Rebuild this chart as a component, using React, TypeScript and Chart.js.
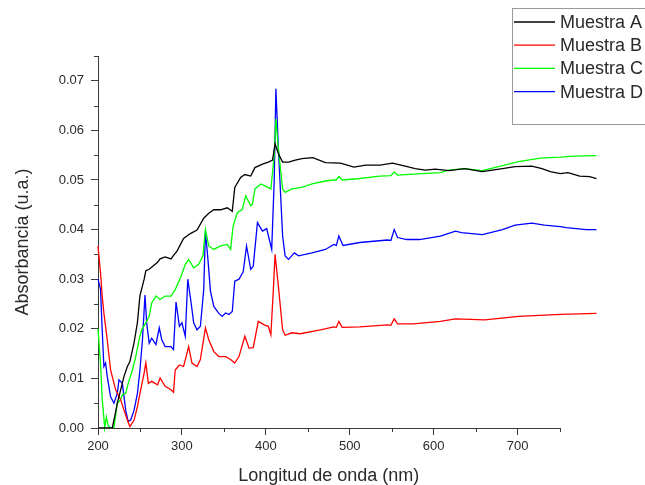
import React, { useEffect, useRef } from "react";
import { Chart, registerables } from "chart.js";

Chart.register(...registerables);

const FONT = '"Liberation Sans", Arial, Helvetica, sans-serif';

const seriesNames = ["Muestra A", "Muestra B", "Muestra C", "Muestra D"];
const seriesColors = ["#000000", "#ff0000", "#00ff00", "#0000ff"];

const xTitle = "Longitud de onda (nm)";
const yTitle = "Absorbancia (u.a.)";
const xAxisMin = 200;
const xAxisEnd = 750;
const xDataMax = 800;
const xMajorLast = 700;
const xMinorTicks = [250, 350, 450, 550, 650, 750];
const yMinorTicks = [0.005, 0.015, 0.025, 0.035, 0.045, 0.055, 0.065, 0.075];

const wlA = [200, 209, 215, 217, 220, 223, 227, 231, 235, 238, 243, 247, 250, 255, 257, 261, 266, 271, 274, 280, 287, 290, 294, 302, 310, 318, 326, 332, 338, 346, 354, 360, 363, 370, 375, 382, 387, 396, 403, 408, 411, 415, 420, 427, 435, 443, 456, 471, 489, 505, 519, 536, 551, 566, 578, 590, 602, 618, 637, 658, 682, 697, 717, 729, 739, 751, 760, 774, 786, 794];
const absA = [0.0, 0.0, 0.0, 0.0, 0.0024, 0.005, 0.0077, 0.0104, 0.0124, 0.0134, 0.0172, 0.0213, 0.0267, 0.03, 0.0317, 0.032, 0.0327, 0.0334, 0.0341, 0.0345, 0.0341, 0.0348, 0.0356, 0.0382, 0.0392, 0.0399, 0.0423, 0.0433, 0.044, 0.044, 0.0444, 0.0437, 0.0485, 0.0505, 0.0511, 0.0508, 0.0525, 0.0532, 0.0536, 0.054, 0.0573, 0.0553, 0.0536, 0.0536, 0.054, 0.0543, 0.0545, 0.0535, 0.0534, 0.0526, 0.053, 0.053, 0.0534, 0.0528, 0.0523, 0.052, 0.0522, 0.0519, 0.0523, 0.0517, 0.0523, 0.0527, 0.0528, 0.0523, 0.0517, 0.0513, 0.0515, 0.0508, 0.0507, 0.0503];

const wlB = [200, 203, 205, 207, 211, 215, 221, 227, 231, 235, 238, 243, 247, 250, 255, 257, 260, 264, 271, 274, 280, 287, 290, 292, 297, 302, 308, 312, 318, 322, 328, 332, 338, 344, 352, 358, 363, 368, 375, 380, 385, 391, 398, 403, 406, 409, 411, 415, 420, 423, 431, 441, 465, 481, 484, 487, 491, 512, 545, 549, 553, 557, 576, 608, 626, 661, 701, 751, 794];
const absB = [0.0367, 0.0313, 0.0266, 0.0232, 0.0178, 0.0117, 0.0077, 0.0057, 0.0036, 0.0016, 0.0003, 0.0016, 0.0043, 0.007, 0.0111, 0.0131, 0.009, 0.0094, 0.0087, 0.0101, 0.0084, 0.0077, 0.0072, 0.0117, 0.0127, 0.0124, 0.0164, 0.0131, 0.0124, 0.0138, 0.0202, 0.0178, 0.0154, 0.0144, 0.0144, 0.0138, 0.0131, 0.0144, 0.0185, 0.0161, 0.0162, 0.0215, 0.0208, 0.0205, 0.0188, 0.028, 0.035, 0.0285, 0.0198, 0.0187, 0.0192, 0.019, 0.0198, 0.0204, 0.0203, 0.0215, 0.0203, 0.0204, 0.0208, 0.0207, 0.022, 0.021, 0.021, 0.0215, 0.022, 0.0218, 0.0225, 0.0229, 0.0231];

const wlC = [200, 203, 205, 208, 210, 212, 215, 219, 223, 227, 229, 233, 236, 241, 245, 249, 252, 257, 261, 264, 269, 274, 280, 287, 292, 299, 304, 308, 314, 320, 325, 328, 332, 338, 346, 354, 358, 361, 366, 372, 376, 382, 384, 387, 394, 399, 406, 410, 412, 415, 420, 423, 431, 443, 455, 471, 481, 484, 487, 491, 512, 536, 549, 553, 557, 576, 608, 618, 637, 658, 682, 701, 727, 751, 767, 794];
const absC = [0.02, 0.013, 0.006, 0.0, 0.0022, 0.0005, 0.0, 0.0, 0.005, 0.0057, 0.0067, 0.007, 0.009, 0.0117, 0.0144, 0.0178, 0.0198, 0.0212, 0.0225, 0.0252, 0.0266, 0.0259, 0.0266, 0.0266, 0.0279, 0.0306, 0.033, 0.034, 0.0323, 0.033, 0.0347, 0.04, 0.0367, 0.036, 0.0367, 0.037, 0.036, 0.0407, 0.0434, 0.0441, 0.0468, 0.0448, 0.0451, 0.0482, 0.0492, 0.0488, 0.0482, 0.055, 0.0623, 0.0562, 0.0482, 0.0475, 0.0482, 0.0485, 0.0492, 0.0498, 0.05, 0.05, 0.0507, 0.05, 0.0503, 0.0508, 0.0509, 0.0516, 0.051, 0.0512, 0.0515, 0.052, 0.0523, 0.0519, 0.0529, 0.0537, 0.0544, 0.0546, 0.0548, 0.0549];

const wlD = [200, 203, 205, 207, 209, 211, 215, 219, 223, 225, 229, 233, 236, 239, 243, 247, 250, 253, 256, 258, 261, 264, 269, 273, 276, 280, 287, 290, 293, 297, 300, 304, 307, 311, 314, 318, 322, 326, 328, 331, 334, 338, 344, 348, 352, 356, 360, 363, 368, 373, 377, 382, 385, 390, 396, 401, 407, 410, 412, 415, 420, 423, 427, 434, 439, 455, 471, 481, 484, 487, 492, 512, 545, 549, 553, 557, 568, 583, 608, 626, 633, 658, 682, 697, 717, 732, 751, 758, 782, 794];
const absD = [0.03, 0.028, 0.0198, 0.0124, 0.0131, 0.0104, 0.0063, 0.005, 0.007, 0.0097, 0.009, 0.0036, 0.0013, 0.0016, 0.0036, 0.007, 0.0117, 0.0178, 0.0268, 0.0212, 0.0171, 0.0181, 0.0168, 0.0202, 0.0178, 0.0164, 0.0164, 0.0158, 0.0254, 0.0205, 0.0212, 0.0185, 0.03, 0.0252, 0.0212, 0.0198, 0.0205, 0.0279, 0.0397, 0.034, 0.0276, 0.0245, 0.0231, 0.0225, 0.0232, 0.0229, 0.0235, 0.0296, 0.03, 0.0315, 0.0367, 0.032, 0.0326, 0.0414, 0.0397, 0.0402, 0.036, 0.05, 0.0684, 0.0562, 0.0387, 0.0347, 0.034, 0.0353, 0.0347, 0.0353, 0.036, 0.037, 0.0368, 0.0387, 0.0368, 0.0374, 0.0379, 0.0378, 0.04, 0.0384, 0.038, 0.038, 0.0387, 0.0397, 0.0394, 0.039, 0.04, 0.0409, 0.0413, 0.0409, 0.0406, 0.0404, 0.04, 0.04];

const seriesX = [wlA, wlB, wlC, wlD];
const seriesY = [absA, absB, absC, absD];

const AXIS_COLOR = "#3a3a3a";
const TEXT_COLOR = "#2a2a2a";

const axisDecorPlugin = {
  id: "axisDecor",
  afterDraw(chart: any) {
    const { ctx, chartArea } = chart;
    const xs = chart.scales.x;
    const ys = chart.scales.y;
    const x0 = xs.getPixelForValue(xAxisMin);
    const x1 = xs.getPixelForValue(xAxisEnd);
    ctx.save();
    ctx.strokeStyle = AXIS_COLOR;
    ctx.lineWidth = 1;
    ctx.beginPath();
    const by = Math.round(chartArea.bottom) + 0.5;
    ctx.moveTo(Math.round(x0), by);
    ctx.lineTo(Math.round(x1) + 1, by);
    for (const v of xMinorTicks) {
      const px = Math.round(xs.getPixelForValue(v)) + 0.5;
      ctx.moveTo(px, chartArea.bottom);
      ctx.lineTo(px, chartArea.bottom + 4);
    }
    for (const v of yMinorTicks) {
      const py = Math.round(ys.getPixelForValue(v)) + 0.5;
      ctx.moveTo(chartArea.left, py);
      ctx.lineTo(chartArea.left - 4, py);
    }
    ctx.stroke();
    ctx.fillStyle = TEXT_COLOR;
    ctx.font = `18px ${FONT}`;
    ctx.textAlign = "center";
    ctx.textBaseline = "middle";
    ctx.fillText(xTitle, (x0 + x1) / 2, 476);
    ctx.restore();
  },
};

const boxLegendPlugin = {
  id: "boxLegend",
  afterDraw(chart: any) {
    const { ctx } = chart;
    ctx.save();
    ctx.strokeStyle = "#9a9a9a";
    ctx.lineWidth = 1;
    ctx.strokeRect(512.5, 8.5, 200, 116);
    ctx.font = `18px ${FONT}`;
    ctx.textBaseline = "middle";
    ctx.textAlign = "left";
    chart.data.datasets.forEach((ds: any, i: number) => {
      const y = 22 + i * 23.2;
      ctx.strokeStyle = ds.borderColor;
      ctx.lineWidth = 1.3;
      ctx.beginPath();
      ctx.moveTo(514, y);
      ctx.lineTo(555, y);
      ctx.stroke();
      ctx.fillStyle = TEXT_COLOR;
      ctx.fillText(ds.label, 560, y + 1);
    });
    ctx.restore();
  },
};

export default function App() {
  const canvasRef = useRef<HTMLCanvasElement | null>(null);

  useEffect(() => {
    const canvas = canvasRef.current;
    if (!canvas) return;
    const datasets = seriesNames.map((name, i) => ({
      label: name,
      data: seriesX[i].map((x, j) => ({ x, y: seriesY[i][j] })),
      borderColor: seriesColors[i],
      backgroundColor: seriesColors[i],
      borderWidth: 1.3,
      pointRadius: 0,
      tension: 0,
      fill: false,
      clip: false as any,
    }));
    const chart = new Chart(canvas, {
      type: "line",
      data: { datasets },
      options: {
        animation: false,
        responsive: false,
        devicePixelRatio: 1,
        layout: { padding: { left: 0, right: 43.5, top: 56, bottom: 0 } },
        plugins: {
          legend: { display: false },
          tooltip: { enabled: false },
          title: { display: false },
        },
        scales: {
          x: {
            type: "linear",
            min: xAxisMin,
            max: xDataMax,
            afterFit(scale: any) {
              scale.height = 57;
            },
            afterBuildTicks(scale: any) {
              scale.ticks = scale.ticks.filter((t: any) => t.value <= xMajorLast);
            },
            ticks: {
              stepSize: 100,
              includeBounds: false,
              autoSkip: false,
              maxRotation: 0,
              padding: 4,
              color: TEXT_COLOR,
              font: { family: FONT, size: 13 },
              callback: (v: any) => String(v),
            },
            grid: {
              display: true,
              drawOnChartArea: false,
              drawTicks: true,
              tickLength: 7,
              tickColor: AXIS_COLOR,
              tickWidth: 1,
            },
            border: { display: false },
            title: { display: false },
          },
          y: {
            type: "linear",
            min: 0,
            max: 0.075,
            afterFit(scale: any) {
              scale.width = 98;
            },
            ticks: {
              stepSize: 0.01,
              includeBounds: false,
              autoSkip: false,
              padding: 7,
              color: TEXT_COLOR,
              font: { family: FONT, size: 13 },
              callback: (v: any) => Number(v).toFixed(2),
            },
            grid: {
              display: true,
              drawOnChartArea: false,
              drawTicks: true,
              tickLength: 7,
              tickColor: AXIS_COLOR,
              tickWidth: 1,
            },
            border: { display: true, color: AXIS_COLOR, width: 1 },
            title: {
              display: true,
              text: yTitle,
              color: TEXT_COLOR,
              font: { family: FONT, size: 18, lineHeight: 1 },
              padding: { top: 14, bottom: 0 },
            },
          },
        },
      },
      plugins: [axisDecorPlugin, boxLegendPlugin],
    });
    return () => chart.destroy();
  }, []);

  return (
    <div style={{ position: "fixed", left: 0, top: 0, width: 645, height: 485, background: "#ffffff" }}>
      <canvas ref={canvasRef} width={645} height={485} />
    </div>
  );
}
